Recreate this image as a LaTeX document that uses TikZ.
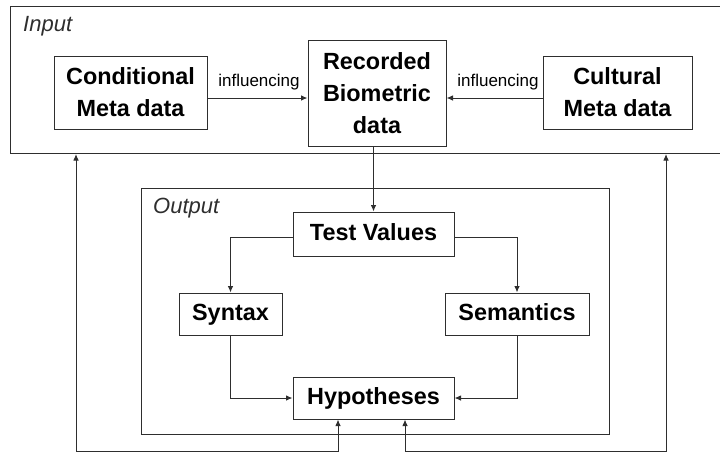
\documentclass[tikz,border=0pt]{standalone}
\usepackage{fontspec}
\setmainfont{Liberation Sans}
\usetikzlibrary{arrows.meta}
\definecolor{lc}{HTML}{2E2E2E}
\tikzset{
  box/.style={draw=lc, line width=1pt, inner sep=0pt, align=center,
    font=\bfseries\fontsize{23.4}{32}\selectfont},
  onebox/.style={box, text height=17pt, text depth=4.2pt},
  frame/.style={draw=lc, line width=1pt, inner sep=0pt},
  conn/.style={draw=lc, line width=1pt, -{Latex[length=6.5pt,width=5.5pt]}},
  both/.style={draw=lc, line width=1pt, {Latex[length=6.5pt,width=5.5pt]}-{Latex[length=6.5pt,width=5.5pt]}},
  lbl/.style={font=\fontsize{17}{20}\selectfont, inner sep=0pt, anchor=base},
  ttl/.style={font=\itshape\fontsize{22}{26}\selectfont, text=lc, inner sep=0pt, anchor=base west}
}
\begin{document}
\begin{tikzpicture}[x=1pt,y=-1pt]
\useasboundingbox (0,0) rectangle (720,453);
% frames
\node[frame, minimum width=712pt, minimum height=147.5pt] (inp) at (366,79.75) {};
\node[frame, minimum width=467.5pt, minimum height=246pt] (outp) at (375.25,311) {};
\node[ttl] (inpt) at (23,31.5) {Input};
\node[ttl] (outpt) at (153,213.5) {Output};
% input boxes
\node[box, minimum width=153pt, minimum height=73pt] (cond) at (130.5,92.5) {Conditional\\Meta data};
\node[box, minimum width=138pt, minimum height=106pt] (rec) at (377,93) {Recorded\\Biometric\\data};
\node[box, minimum width=149pt, minimum height=73pt] (cult) at (617.5,92.5) {Cultural\\Meta data};
\node[lbl] (inf1) at (259,86.5) {influencing};
\node[lbl] (inf2) at (498,86.5) {influencing};
% output boxes
\node[onebox, minimum width=161pt, minimum height=44pt] (tv) at (373.5,234) {Test Values};
\node[onebox, minimum width=103pt, minimum height=42pt] (syn) at (230.5,314) {Syntax};
\node[onebox, minimum width=144pt, minimum height=42pt] (sem) at (517,314) {Semantics};
\node[onebox, minimum width=161pt, minimum height=42pt] (hyp) at (373.5,398) {Hypotheses};
% coordinates
\coordinate (ay) at (0,98);
\coordinate (ty) at (0,237);
\coordinate (ll) at (76,451);
\coordinate (rl) at (666,451);
\coordinate (hl) at (338,0);
\coordinate (hr) at (405,0);
% connectors
\draw[conn] (cond.east |- ay) -- (rec.west |- ay);
\draw[conn] (cult.west |- ay) -- (rec.east |- ay);
\draw[conn] (tv.north |- rec.south) -- (tv.north);
\draw[conn] (tv.west |- ty) -| (syn.north);
\draw[conn] (tv.east |- ty) -| (sem.north);
\draw[conn] (syn.south) |- (hyp.west);
\draw[conn] (sem.south) |- (hyp.east);
\draw[both] (inp.south -| ll) -- (ll) -| (hyp.south -| hl);
\draw[both] (inp.south -| rl) -- (rl) -| (hyp.south -| hr);
\end{tikzpicture}
\end{document}
